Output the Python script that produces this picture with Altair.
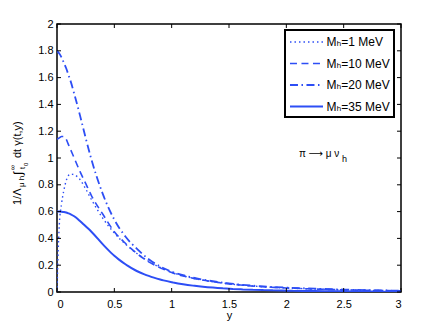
import altair as alt
import pandas as pd

# ---------------- data ----------------
y_grid = [0, 0.01, 0.02, 0.04, 0.06, 0.08, 0.1, 0.12, 0.15, 0.2, 0.25, 0.3, 0.4, 0.5,
          0.6, 0.7, 0.8, 0.9, 1.0, 1.2, 1.4, 1.6, 1.8, 2.0, 2.25, 2.5, 2.75, 3.0]

m1 = [0.0, 0.30, 0.50, 0.66, 0.76, 0.83, 0.87, 0.88, 0.875, 0.84, 0.77, 0.69, 0.55, 0.44,
      0.355, 0.285, 0.228, 0.183, 0.148, 0.10, 0.072, 0.052, 0.039, 0.030, 0.022, 0.016, 0.012, 0.009]
m10 = [1.14, 1.145, 1.15, 1.16, 1.16, 1.14, 1.10, 1.06, 1.00, 0.90, 0.81, 0.72, 0.58, 0.45,
       0.36, 0.285, 0.225, 0.18, 0.145, 0.10, 0.072, 0.052, 0.039, 0.030, 0.022, 0.016, 0.012, 0.009]
m20 = [1.80, 1.79, 1.78, 1.75, 1.71, 1.67, 1.62, 1.57, 1.48, 1.32, 1.15, 0.99, 0.73, 0.54,
       0.41, 0.32, 0.245, 0.19, 0.152, 0.105, 0.075, 0.055, 0.042, 0.033, 0.025, 0.018, 0.013, 0.010]
m35 = [0.60, 0.60, 0.60, 0.599, 0.597, 0.593, 0.587, 0.58, 0.565, 0.53, 0.49, 0.45, 0.355, 0.27,
       0.205, 0.155, 0.12, 0.093, 0.073, 0.046, 0.030, 0.020, 0.014, 0.010, 0.007, 0.005, 0.003, 0.002]

labels = ["M\u2095=1 MeV", "M\u2095=10 MeV", "M\u2095=20 MeV", "M\u2095=35 MeV"]
x_ticks = [0, 0.5, 1, 1.5, 2, 2.5, 3]
y_ticks = [0, 0.2, 0.4, 0.6, 0.8, 1, 1.2, 1.4, 1.6, 1.8, 2]

annot_x = [2.11]
annot_y = [1.03]

# ---------------- styles ----------------
BLUE = "#2d4ef5"
FONT = "Liberation Sans"
dashes = [[1.5, 3], [7, 4.5], [8, 3.5, 1.5, 3.5], [10, 0]]
widths = [1.4, 2, 1.9, 1.9]
W, H = 344, 268

rows = []
for lab, vals in zip(labels, [m1, m10, m20, m35]):
    for xv, v in zip(y_grid, vals):
        rows.append({"y": xv, "val": v, "series": lab})
df = pd.DataFrame(rows)

xs = alt.Scale(domain=[0, 3], nice=False, zero=False)
ys = alt.Scale(domain=[0, 2], nice=False, zero=False)
xaxis = alt.Axis(values=x_ticks, format="~g", title="y", labelPadding=6,
                 titlePadding=0, labelOverlap=False)
yaxis = alt.Axis(values=y_ticks, format="~g", title=None, labelPadding=4,
                 labelOverlap=False)

lines = alt.Chart(df).mark_line(
    color=BLUE, interpolate="monotone", clip=True
).encode(
    x=alt.X("y:Q", scale=xs, axis=xaxis),
    y=alt.Y("val:Q", scale=ys, axis=yaxis),
    strokeDash=alt.StrokeDash(
        "series:N",
        scale=alt.Scale(domain=labels, range=dashes),
        legend=alt.Legend(
            title=None, orient="none", legendX=228, legendY=6,
            symbolType="M-2.36,0H2.36", symbolSize=196, symbolStrokeWidth=2,
            symbolStrokeColor=BLUE, symbolOffset=9.5,
            labelFontSize=12, labelFont=FONT + ", DejaVu Sans",
            labelColor="black", labelOffset=12, labelLimit=300,
            strokeColor="black", fillColor="white", padding=4, rowPadding=7.5,
        ),
    ),
    strokeWidth=alt.StrokeWidth("series:N", scale=alt.Scale(domain=labels, range=widths),
                                legend=None),
)

tick_x_df = pd.DataFrame({"y": x_ticks})
tick_y_df = pd.DataFrame({"val": y_ticks})
TL = 4
bt = alt.Chart(tick_x_df).mark_rule(color="black", strokeWidth=1).encode(
    x=alt.X("y:Q", scale=xs, axis=xaxis), y=alt.value(H), y2=alt.value(H - TL))
tt = alt.Chart(tick_x_df).mark_rule(color="black", strokeWidth=1).encode(
    x=alt.X("y:Q", scale=xs, axis=xaxis), y=alt.value(0), y2=alt.value(TL))
lt = alt.Chart(tick_y_df).mark_rule(color="black", strokeWidth=1).encode(
    y=alt.Y("val:Q", scale=ys, axis=yaxis), x=alt.value(0), x2=alt.value(TL))
rt = alt.Chart(tick_y_df).mark_rule(color="black", strokeWidth=1).encode(
    y=alt.Y("val:Q", scale=ys, axis=yaxis), x=alt.value(W), x2=alt.value(W - TL))

adf = pd.DataFrame({"y": annot_x, "val": annot_y})
ann = alt.Chart(adf).mark_text(
    text="\u03c0 \u27f6 \u03bc \u03bd", align="left", baseline="middle",
    font=FONT + ", DejaVu Sans", fontSize=10, color="black"
).encode(x=alt.X("y:Q", scale=xs, axis=xaxis), y=alt.Y("val:Q", scale=ys, axis=yaxis))
ann_h = alt.Chart(adf).mark_text(
    text="h", align="left", baseline="middle", dx=43, dy=5,
    font=FONT, fontSize=9, color="black"
).encode(x=alt.X("y:Q", scale=xs, axis=xaxis), y=alt.Y("val:Q", scale=ys, axis=yaxis))

# y-axis title built from pieces (sub/superscripts)
OX, OY = 57, 24
def piece(txt, bx, sy, size):
    return alt.Chart(pd.DataFrame({"a": [0]})).mark_text(
        text=txt, angle=270, align="left", baseline="alphabetic",
        font=FONT + ", DejaVu Sans", fontSize=size, color="black"
    ).encode(x=alt.value(bx - OX), y=alt.value(sy - OY))

title_parts = [
    piece("1/\u039b", 21, 205, 11),
    piece("\u03bc h", 24, 187, 8),
    piece("\u222b", 22, 175, 12),
    piece("\u221e", 15, 170, 7),
    piece("t", 25, 169, 7),
    piece("0", 28, 166, 6),
    piece("dt \u03b3(t,y)", 21, 158, 11),
]

chart = alt.layer(lines, bt, tt, lt, rt, ann, ann_h, *title_parts).properties(
    width=W, height=H,
    autosize=alt.AutoSizeParams(type="none"),
    padding={"left": 49, "top": 16, "right": 34, "bottom": 29},
).configure_view(
    stroke="black", strokeWidth=1.5
).configure_axis(
    domain=False, ticks=False, grid=False,
    labelFont=FONT, labelFontSize=11, labelColor="black",
    titleFont=FONT, titleFontSize=11, titleColor="black", titleFontWeight="normal",
).configure_legend(
    strokeWidth=2
)

chart.save("out.html", embed_options={"renderer": "svg", "actions": False})
